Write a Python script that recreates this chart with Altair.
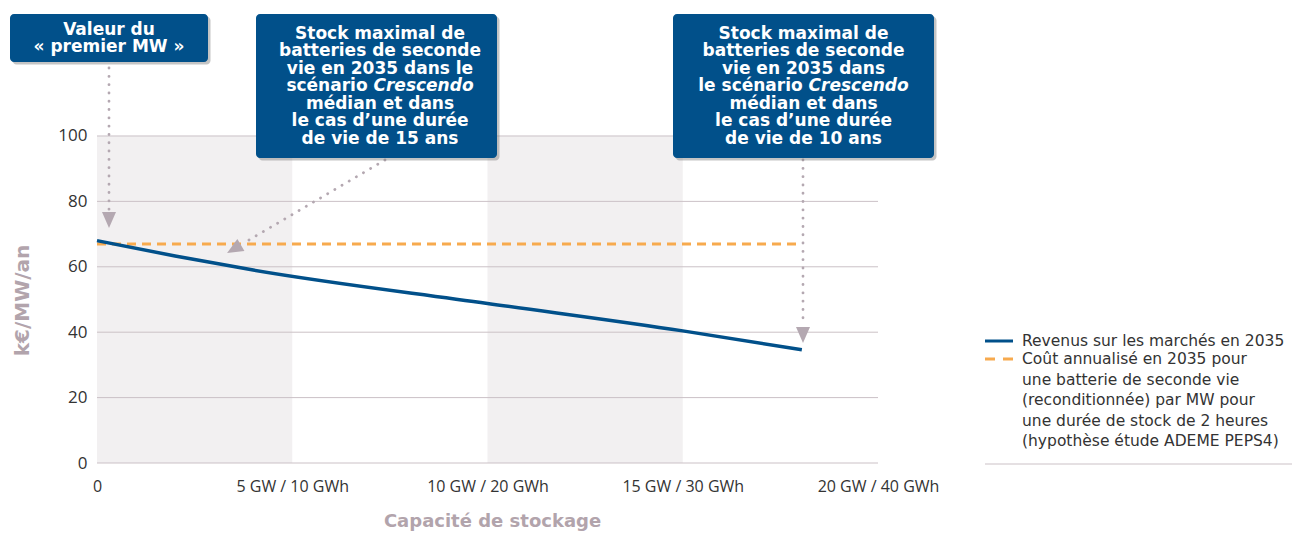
import json
import altair as alt
import pandas as pd

# ---------------- data ----------------
capacite_gw = [0, 2, 4, 10, 15, 18.05]
revenus_keur = [68.0, 63.3, 59.0, 48.8, 40.4, 34.6]
cout_capacite_gw = [0, 18.05]
cout_keur = [67.0, 67.0]

x_tick_values = [0, 5, 10, 15, 20]
x_tick_labels = ["0", "5 GW / 10 GWh", "10 GW / 20 GWh", "15 GW / 30 GWh", "20 GW / 40 GWh"]
y_tick_values = [0, 20, 40, 60, 80, 100]
band_starts = [0, 10]
band_ends = [5, 15]
band_top = 100

legend_lines = [
    "Revenus sur les marchés en 2035",
    "Coût annualisé en 2035 pour",
    "une batterie de seconde vie",
    "(reconditionnée) par MW pour",
    "une durée de stock de 2 heures",
    "(hypothèse étude ADEME PEPS4)",
]

box1_lines = ["Valeur du", "« premier MW »"]
box2_lines = ["Stock maximal de", "batteries de seconde", "vie en 2035 dans le",
              ("scénario", "Crescendo"), "médian et dans", "le cas d’une durée",
              "de vie de 15 ans"]
box3_lines = ["Stock maximal de", "batteries de seconde", "vie en 2035 dans",
              ("le scénario", "Crescendo"), "médian et dans", "le cas d’une durée",
              "de vie de 10 ans"]

# ---------------- layout ----------------
PLOT_W, PLOT_H = 781, 449
X_MAX, Y_MAX = 20, 137.3
ORIGIN_X, ORIGIN_Y = 97, 463   # page pixel position of the plot origin


def gx(px):
    return (px - ORIGIN_X) * X_MAX / PLOT_W


def gy(py):
    return (ORIGIN_Y - py) * Y_MAX / PLOT_H


BLUE = "#01508a"
ORANGE = "#f7aa4e"
MAUVE = "#b4a8b1"
BAND = "#f2f0f1"
GRID = "#cbc1c6"
TITLE_C = "#b2a4ac"
TXT = "#333333"

xs = alt.Scale(domain=[0, X_MAX], nice=False, zero=False)
ys = alt.Scale(domain=[0, Y_MAX], nice=False, zero=False)

label_expr = f"{json.dumps(x_tick_labels)}[indexof({json.dumps(x_tick_values)}, datum.value)]"

x_axis = alt.Axis(values=x_tick_values, labelExpr=label_expr, domain=False, ticks=False,
                  tickSize=0, grid=False, labelFont="Open Sans", labelFontSize=16,
                  labelColor=TXT, labelPadding=28, labelBaseline="alphabetic",
                  labelFlush=False, labelOverlap=False, labelBound=False,
                  title="Capacité de stockage", titleFont="DejaVu Sans",
                  titleFontWeight="bold", titleFontSize=18, titleColor=TITLE_C,
                  titleX=492 - ORIGIN_X, titleY=526 - ORIGIN_Y, titleBaseline="alphabetic",
                  titleAlign="center")
y_axis = alt.Axis(values=y_tick_values, domain=False, ticks=False, tickSize=0, grid=False,
                  labelFont="Open Sans", labelFontSize=17, labelColor=TXT, labelPadding=10,
                  title="k€/MW/an", titleFont="DejaVu Sans", titleFontWeight="bold",
                  titleFontSize=20, titleColor=TITLE_C, titleAngle=270,
                  titleX=28 - ORIGIN_X, titleY=300 - 14, titleBaseline="alphabetic",
                  titleAlign="center")


def X(field):
    return alt.X(f"{field}:Q", scale=xs, axis=x_axis)


def Y(field):
    return alt.Y(f"{field}:Q", scale=ys, axis=y_axis)


# bands
bands = pd.DataFrame({"x": band_starts, "x2": band_ends, "y": [0] * len(band_starts),
                      "y2": [band_top] * len(band_starts)})
l_bands = alt.Chart(bands).mark_rect(color=BAND).encode(x=X("x"), x2="x2", y=Y("y"), y2="y2")

# gridlines
grid = pd.DataFrame({"y": y_tick_values, "x": [0] * len(y_tick_values),
                     "x2": [X_MAX] * len(y_tick_values)})
l_grid = alt.Chart(grid).mark_rule(color=GRID, strokeWidth=1).encode(x=X("x"), x2="x2", y=Y("y"))

# series
cout_df = pd.DataFrame({"x": cout_capacite_gw, "y": cout_keur})
l_cout = alt.Chart(cout_df).mark_line(color=ORANGE, strokeWidth=3, strokeDash=[9, 6]).encode(
    x=X("x"), y=Y("y"))
rev_df = pd.DataFrame({"x": capacite_gw, "y": revenus_keur})
l_rev = alt.Chart(rev_df).mark_line(color=BLUE, strokeWidth=3.5, interpolate="monotone").encode(
    x=X("x"), y=Y("y"))

# dotted arrows
arrows_px = [(109, 68, 109, 211), (385, 160, 249, 240), (803, 160, 803, 325)]
arrows = pd.DataFrame({"x": [gx(a[0]) for a in arrows_px], "y": [gy(a[1]) for a in arrows_px],
                       "x2": [gx(a[2]) for a in arrows_px], "y2": [gy(a[3]) for a in arrows_px]})
l_arrows = alt.Chart(arrows).mark_rule(color=MAUVE, strokeWidth=2.8, strokeDash=[0.1, 8.2],
                                       strokeCap="round").encode(
    x=X("x"), y=Y("y"), x2="x2", y2="y2")

heads_px = [(109, 220, 0), (234, 249, 59.6), (803, 335, 0)]
heads = pd.DataFrame({"x": [gx(h[0]) for h in heads_px], "y": [gy(h[1]) for h in heads_px],
                      "a": [h[2] for h in heads_px]})
l_heads = alt.Chart(heads).mark_point(shape="M-0.875,-1L0.875,-1L0,1Z", size=256, filled=True,
                                      color=MAUVE, opacity=1, strokeWidth=0).encode(
    x=X("x"), y=Y("y"), angle=alt.Angle("a:Q", scale=None))

# boxes
boxes_px = [(10, 208, 14, 62), (256, 497, 14, 158), (673, 934, 14, 158)]
boxes = pd.DataFrame({"x": [gx(b[0]) for b in boxes_px], "x2": [gx(b[1]) for b in boxes_px],
                      "y": [gy(b[2]) for b in boxes_px], "y2": [gy(b[3]) for b in boxes_px]})
shadow = boxes.copy()
shadow["x"] += gx(ORIGIN_X + 2.5)
shadow["x2"] += gx(ORIGIN_X + 2.5)
shadow["y"] -= gy(ORIGIN_Y - 2.5)
shadow["y2"] -= gy(ORIGIN_Y - 2.5)
l_shadow = alt.Chart(shadow).mark_rect(color="#7d7d7d", opacity=0.45, cornerRadius=4).encode(
    x=X("x"), x2="x2", y=Y("y"), y2="y2")
l_boxes = alt.Chart(boxes).mark_rect(color=BLUE, cornerRadius=4).encode(
    x=X("x"), x2="x2", y=Y("y"), y2="y2")

# box texts
centers_px = [109, 380, 803.5]
first_line_px = [29.5, 33.5, 33.5]
split_px = [None, (367.6, 373.5), (802.7, 808.6)]
LINE_H = 17.5
rows_c, rows_r, rows_i = [], [], []
for lines, cx, fy, sp in zip([box1_lines, box2_lines, box3_lines], centers_px, first_line_px, split_px):
    for i, ln in enumerate(lines):
        yy = gy(fy + i * LINE_H)
        if isinstance(ln, tuple):
            rows_r.append({"x": gx(sp[0]), "y": yy, "t": ln[0]})
            rows_i.append({"x": gx(sp[1]), "y": yy, "t": ln[1]})
        else:
            rows_c.append({"x": gx(cx), "y": yy, "t": ln})

box_font = dict(font="DejaVu Sans", fontSize=17, fontWeight="bold", color="white",
                baseline="middle")
l_txt_c = alt.Chart(pd.DataFrame(rows_c)).mark_text(align="center", **box_font).encode(
    x=X("x"), y=Y("y"), text="t:N")
l_txt_r = alt.Chart(pd.DataFrame(rows_r)).mark_text(align="right", **box_font).encode(
    x=X("x"), y=Y("y"), text="t:N")
l_txt_i = alt.Chart(pd.DataFrame(rows_i)).mark_text(align="left", fontStyle="italic",
                                                    **box_font).encode(
    x=X("x"), y=Y("y"), text="t:N")

# legend
leg_y_px = [341, 359, 379.5, 400, 420.5, 441]
leg_txt = pd.DataFrame({"x": [gx(1022)] * len(legend_lines), "y": [gy(p) for p in leg_y_px],
                        "t": legend_lines})
l_leg_txt = alt.Chart(leg_txt).mark_text(align="left", baseline="middle", font="DejaVu Sans",
                                         fontSize=15.5, color=TXT).encode(
    x=X("x"), y=Y("y"), text="t:N")
leg_blue = pd.DataFrame({"x": [gx(985)], "x2": [gx(1013)], "y": [gy(341)]})
l_leg_blue = alt.Chart(leg_blue).mark_rule(color=BLUE, strokeWidth=3).encode(
    x=X("x"), x2="x2", y=Y("y"))
leg_orange = pd.DataFrame({"x": [gx(985)], "x2": [gx(1013)], "y": [gy(359)]})
l_leg_orange = alt.Chart(leg_orange).mark_rule(color=ORANGE, strokeWidth=3,
                                               strokeDash=[10, 8]).encode(
    x=X("x"), x2="x2", y=Y("y"))
leg_sep = pd.DataFrame({"x": [gx(985)], "x2": [gx(1295)], "y": [gy(464)]})
l_leg_sep = alt.Chart(leg_sep).mark_rule(color=GRID, strokeWidth=1).encode(
    x=X("x"), x2="x2", y=Y("y"))

chart = alt.layer(
    l_bands, l_grid, l_cout, l_rev, l_arrows, l_heads, l_shadow, l_boxes,
    l_txt_c, l_txt_r, l_txt_i, l_leg_blue, l_leg_orange, l_leg_txt, l_leg_sep
).properties(
    width=PLOT_W, height=PLOT_H,
    padding={"left": ORIGIN_X - 8, "top": ORIGIN_Y - PLOT_H - 8, "right": 1284 - (ORIGIN_X - 8) - PLOT_W,
             "bottom": 525 - (ORIGIN_Y - 8)},
    autosize=alt.AutoSizeParams(type="none"),
    background="white",
).configure_view(stroke=None)

chart.save("out.html", embed_options={"renderer": "svg", "actions": False})
